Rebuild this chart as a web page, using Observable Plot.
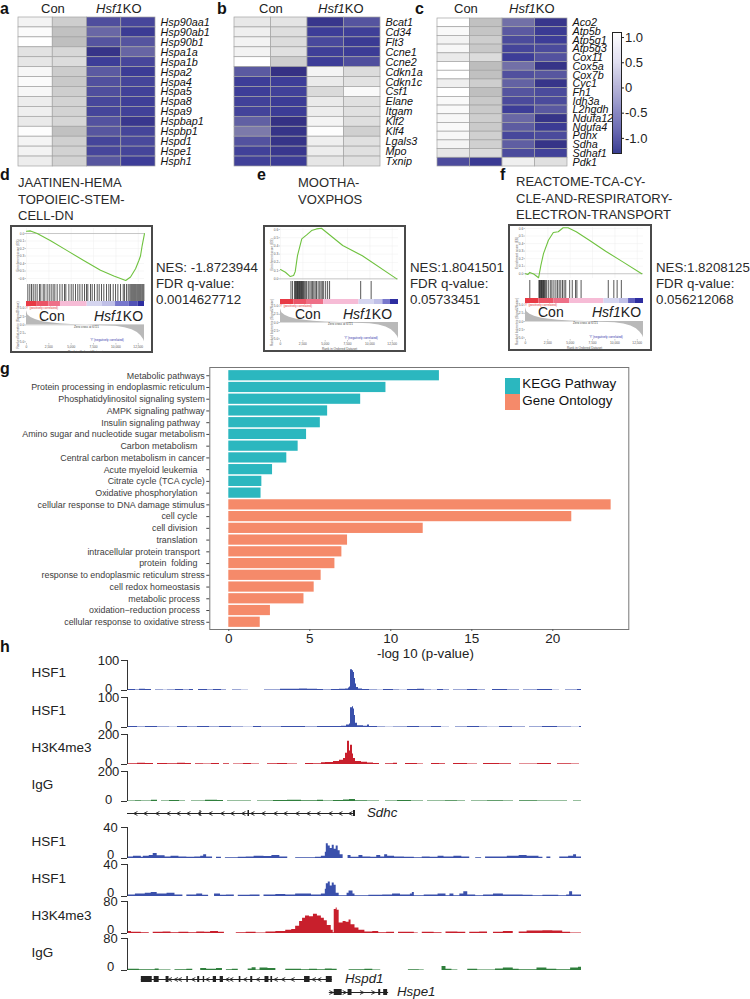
<!DOCTYPE html>
<html><head><meta charset="utf-8">
<style>
html,body{margin:0;padding:0;background:#fff}
#page{position:relative;width:750px;height:999px;overflow:hidden;font-family:"Liberation Sans",Arial,sans-serif;color:#222}
.t{position:absolute;line-height:1;white-space:pre;transform:translateY(-50%)}
.box{position:absolute;box-sizing:border-box;border:2px solid #4a4a4a}
.sw{position:absolute}
</style>
<script src="https://cdn.jsdelivr.net/npm/d3@7"></script>
<script src="https://cdn.jsdelivr.net/npm/@observablehq/plot@0.6"></script>
</head><body><div id="page"></div>
<script>
// ---------- heatmap data (z-scores) ----------
const genesA = ["Hsp90aa1","Hsp90ab1","Hsp90b1","Hspa1a","Hspa1b","Hspa2","Hspa4","Hspa5","Hspa8","Hspa9","Hspbap1","Hspbp1","Hspd1","Hspe1","Hsph1"];
const valuesA = [[1.05,.6,-.78,-.88],[1.15,.45,-.45,-1.05],[1.2,.42,-.7,-.7],[.85,.72,-1.2,-.48],[.9,.78,-1,-.88],[1.1,.58,-.62,-1.03],[1.15,.55,-.75,-.9],[1.1,.6,-.78,-.95],[.98,.67,-.87,-.98],[1,.67,-.9,-.95],[.95,.7,-.72,-1.12],[1.17,.45,-.68,-.9],[1.07,.63,-.9,-.85],[1.05,.65,-.88,-.9],[.98,.67,-.68,-1]];
const genesB = ["Bcat1","Cd34","Flt3","Ccne1","Ccne2","Cdkn1a","Cdkn1c","Csf1","Elane","Itgam","Klf2","Klf4","Lgals3","Mpo","Txnip"];
const valuesB = [[.92,.87,-1.15,-.7],[1,.8,-1,-.98],[1.05,.77,-.85,-1.05],[1.05,.83,-.98,-1.03],[1.2,.6,-1,-.78],[-.62,-1.25,1.07,.77],[-1,-1,.95,.85],[-1,-.95,.75,1.13],[-.95,-1.03,.95,.83],[-.92,-1.03,.98,.83],[-.55,-1.25,1.07,.8],[-.25,-1.2,1.17,.63],[-.72,-1.2,1,.83],[-.95,-1.12,.98,.83],[-.95,-1.03,.9,.83]];
const genesC = ["Aco2","Atp5b","Atp5g1","Atp5g3","Cox11","Cox5a","Cox7b","Cyc1","Fh1","Idh3a","L2hgdh","Ndufa12","Ndufa4","Pdhx","Sdha","Sdhaf1","Pdk1"];
const valuesC = [[1.2,.45,-.35,-1.15],[1.13,.5,-.63,-1.05],[1.05,.6,-.82,-1],[1.1,.55,-.9,-.82],[.95,.77,-1,-.72],[1.2,.4,-.35,-1.2],[1.2,.45,-.75,-.68],[1,.6,-.52,-1.18],[1.2,.42,-.7,-.82],[1.13,.55,-.83,-.82],[1.13,.56,-1,-.65],[1.1,.6,-.45,-1.2],[1.13,.56,-.6,-1.05],[1.1,.63,-.87,-.82],[1.07,.63,-.57,-1.2],[.9,.77,-.82,-.95],[-.8,-1.05,1,.83]];
const colorbarTicks = [1,.5,0,-.5,-1];

// ---------- GSEA data ----------
const rankTicks = [0,2500,5000,7500,10000,12500];
const esD = [[0,.03],[450,.035],[1200,0],[2700,-.096],[4550,-.228],[6400,-.36],[8280,-.49],[9770,-.566],[11100,-.627],[11640,-.58],[12200,-.47],[12570,-.36],[12750,-.3],[12940,-.16],[13200,0]];
const esE = [[0,.113],[550,.08],[1100,.028],[1465,.04],[1650,.09],[1900,.283],[2380,.486],[2930,.534],[3480,.587],[4030,.607],[4580,.615],[6960,.405],[9155,.28],[13000,0]];
const esF = [[0,0],[256,-.01],[476,.018],[915,-.004],[1465,-.053],[1720,.11],[2014,.267],[2563,.444],[3113,.547],[3660,.556],[4211,.609],[4760,.609],[5676,.556],[7140,.444],[8972,.298],[10800,.164],[13000,0]];
const hitsD = [150,370,560,750,970,1190,1450,1600,1870,2050,2310,2540,2760,2980,3170,3430,3730,3990,4250,4400,4740,5000,5220,5480,5740,5970,6230,6490,6710,6860,7160,7350,7610,7910,8130,8390,8650,8950,9210,9400,9700,9960,10220,10520,10820,10970,11190,11380,11560,11680,11790,11900,12010,12120,12230,12350,12460,12570,12680,12790,12910,13020,13130];
const hitsE = [1170,1350,1570,1680,1760,1830,1900,1980,2050,2120,2200,2270,2340,2420,2490,2560,2670,2820,2930,3110,3290,3440,3590,3730,3880,4030,4210,4390,4540,4680,4830,5050,5270,5490,8970,10140];
const hitsF = [480,1500,1570,1650,1720,1790,1870,1940,2010,2090,2160,2270,2380,2600,2820,2960,3180,3400,3590,3770,3950,4140,4320,4500,4940,5230,5600,5750,6220,9260,9880,10250,10720];
const rankedMetric = [[0,4.2],[150,3],[500,2.2],[1000,1.6],[1800,1],[2700,.7],[3700,.4],[5000,.15],[6700,0],[8500,-.2],[10000,-.4],[11000,-.8],[11800,-1.4],[12400,-2.2],[12800,-3.2],[13100,-4.3],[13200,-5]];
const bandD = [[0,1],[1200,.85],[2500,.7],[3800,.35],[6790,-.25],[8500,-.35],[9960,-.7],[11500,-.85],[12500,-1],[13200,-1]];
const bandE = [[0,1],[1500,.85],[3000,.7],[4830,.35],[8780,-.25],[10500,-.35],[11450,-.7],[12300,-1],[13200,-1]];
const bandF = [[0,1],[1500,.85],[3200,.7],[4940,.35],[8780,-.25],[10500,-.35],[11530,-.8],[12300,-1],[13200,-1]];

// ---------- bar chart data ----------
const pathways = ["Metabolic pathways","Protein processing in endoplasmic reticulum","Phosphatidylinositol signaling system","AMPK signaling pathway","Insulin signaling pathway\u00a0\u00a0","Amino sugar and nucleotide sugar metabolism","Carbon metabolism\u00a0\u00a0\u00a0","Central carbon metabolism in cancer","Acute myeloid leukemia\u00a0\u00a0\u00a0","Citrate cycle (TCA cycle)","Oxidative phosphorylation\u00a0\u00a0\u00a0"];
const pathwayValues = [13,9.7,8.14,6.1,5.65,4.8,4.28,3.58,2.7,2.04,1.99];
const terms = ["cellular response to DNA damage stimulus","cell cycle\u00a0\u00a0\u00a0","cell division\u00a0\u00a0\u00a0","translation\u00a0\u00a0\u00a0","intracellular protein transport\u00a0\u00a0","protein\u00a0 folding\u00a0\u00a0\u00a0","response to endoplasmic reticulum stress","cell redox homeostasis\u00a0\u00a0","metabolic process\u00a0\u00a0","oxidation\u2212reduction process\u00a0\u00a0","cellular response to oxidative stress"];
const termValues = [23.6,21.17,12,7.33,6.98,6.55,5.7,5.27,4.64,2.57,1.94];
const barTicks = [0,5,10,15,20];

// ---------- browser tracks: [position, signal] ----------
const sdhcHsf1a = [[0,3],[8,2],[12,4],[18,3],[24,0],[28,2],[36,1],[40,2],[48,3],[56,2],[62,3],[66,0],[71,3],[80,2],[86,3],[94,2],[99,0],[105,2],[114,1],[121,0],[137,2],[150,2],[153,4],[165,4],[172,5],[180,4],[190,3],[196,2],[204,3],[212,4],[218,5],[221,8],[222,12],[223,69],[225,66],[226,60],[227,40],[228,22],[229,10],[231,5],[235,3],[242,2],[250,1],[256,3],[266,2],[272,1],[280,3],[290,4],[297,2],[304,1],[310,3],[316,2],[322,0],[326,2],[340,3],[350,2],[358,0],[365,3],[380,2],[392,0],[396,2],[410,3],[425,1],[432,0],[438,2],[450,3],[463,1]];
const sdhcHsf1b = [[0,3],[10,2],[18,3],[30,2],[42,1],[50,3],[60,2],[70,3],[82,2],[92,3],[104,2],[116,1],[126,3],[134,2],[146,2],[154,3],[166,3],[178,2],[190,3],[202,3],[214,4],[219,8],[222,12],[223,66],[225,69],[226,62],[227,40],[228,14],[230,6],[236,4],[240,8],[242,3],[250,2],[258,1],[266,2],[280,3],[292,2],[304,3],[314,1],[322,0],[328,2],[340,3],[352,2],[360,1],[372,3],[385,2],[398,0],[402,2],[415,3],[430,2],[444,1],[452,3],[463,2]];
const sdhcH3k4 = [[0,5],[10,8],[18,6],[26,0],[30,6],[40,5],[50,9],[58,6],[64,0],[68,5],[76,4],[84,7],[92,0],[96,5],[102,0],[106,4],[116,6],[124,3],[132,0],[140,5],[150,6],[160,4],[170,0],[178,6],[186,5],[194,12],[198,14],[206,20],[212,28],[216,40],[218,75],[220,155],[222,90],[223,128],[225,70],[226,40],[228,20],[234,15],[240,10],[246,6],[252,0],[258,5],[266,8],[270,0],[278,6],[290,4],[296,0],[304,6],[312,5],[318,0],[326,6],[340,4],[350,0],[356,6],[372,5],[384,0],[392,4],[410,6],[424,0],[430,5],[444,4],[452,0],[456,4],[463,3]];
const sdhcIgg = [[0,4],[8,5],[14,4],[24,8],[30,0],[34,4],[42,6],[52,3],[58,0],[64,4],[78,8],[90,6],[96,0],[100,4],[114,3],[124,0],[130,4],[146,6],[160,8],[174,5],[190,9],[196,3],[206,6],[216,10],[222,14],[228,5],[240,4],[252,0],[258,4],[270,6],[284,3],[296,0],[300,4],[318,5],[330,3],[338,0],[344,4],[360,5],[376,3],[386,0],[392,5],[410,4],[426,3],[440,0],[446,4],[463,3]];
const hspHsf1a = [[0,2],[6,3],[14,1.5],[16,3],[22,4],[26,6.5],[30,3.5],[38,2],[44,3],[52,2],[60,1.5],[68,2],[74,3],[77,5],[80,2],[86,0],[90,1.5],[95,0],[99,1],[112,1.5],[120,2],[128,3],[138,2.5],[146,4],[154,2],[162,0],[170,1],[190,1.5],[196,3],[200,8],[201,19],[203,16],[205,13],[207,17],[209,12],[211,16],[213,10],[215,5],[218,0],[223,4],[226,1.5],[234,4],[238,2],[246,1.5],[252,4],[256,2],[260,5],[263,3],[270,2],[280,1.5],[290,1],[298,2],[306,1.5],[314,3],[320,2],[330,3],[338,2],[346,0],[352,1],[358,0],[362,2],[372,2],[384,3],[396,4],[404,3],[416,1.5],[420,0],[424,2],[428,0],[437,2],[446,3],[451,5],[454,2],[459,1]];
const hspHsf1b = [[0,2],[8,3],[18,4],[24,5],[30,3],[40,4],[48,2],[56,0],[60,2],[70,3],[76,1.5],[82,0],[88,3],[94,1.5],[100,2],[108,0],[112,1.5],[124,2],[134,0],[138,2],[150,2.5],[160,2],[170,3],[186,2],[196,3],[200,9],[201,16],[203,18],[205,13],[207,17],[209,14],[211,4],[214,1],[222,4],[224,7],[228,3],[230,1],[244,1.5],[258,2],[268,3],[276,2],[286,3],[288,5],[290,1],[300,2],[314,3],[322,1],[326,3],[330,1],[336,3],[340,6],[344,2],[352,1],[360,2],[370,3],[380,2],[392,2],[400,1.5],[410,1],[420,1.5],[436,1],[444,2],[447,6],[450,2],[459,1.5]];
const hspH3k4a = [[0,5],[4,3],[14,2],[22,0],[26,3],[36,4],[44,2],[52,3],[62,2],[70,4],[78,3],[84,5],[92,3],[98,0],[105,0],[110,2],[120,3],[130,1],[140,4],[150,5],[160,8],[166,10],[170,18],[174,30],[177,38],[180,44],[184,42],[188,48],[192,44],[196,38],[199,32],[202,20],[206,8],[208,2],[209,60],[211,64],[212,58],[214,26],[218,30],[221,28],[224,34],[226,22],[230,14],[234,8],[240,4],[248,5],[254,2],[262,3],[270,0],[274,3],[290,1],[294,0],[298,3],[310,2],[318,0],[322,4],[334,3],[342,0],[346,3],[356,4],[364,0],[370,3],[380,5],[390,0],[396,4],[404,6],[420,7],[430,6],[440,3],[448,1],[459,2]];
const hspIgg = [[0,3],[12,2],[24,2],[28,4],[32,1],[44,0],[48,2],[60,3],[66,0],[74,5],[80,3],[90,5],[96,0],[100,2],[106,3],[112,0],[122,4],[126,7],[130,1],[134,6],[142,5],[150,0],[160,3],[176,2],[184,3],[192,2],[200,4],[207,3],[212,0],[224,2],[240,3],[248,1],[256,0],[281,0],[284,2],[295,1],[300,0],[318,10],[322,3],[328,1],[334,0],[344,3],[354,1],[372,4],[380,6],[390,3],[396,2],[414,6],[424,3],[434,2],[448,6],[456,8],[459,2]];

// ---------- gene models ----------
const sdhcChevrons = [8,18,30,41,51,61,72,83,95,105,116,125,136,148,158,170,181,191,203,213,223];
const sdhcExons = [[72.5,73.5],[120.5,122],[226,228]];
const hspd1Chevrons = [43,49,53,66.6,81,101,105,119,132,150,157.5,167,188.5,194];
const hspd1Exons = [[14,25],[27,32],[39,42],[60,61.5],[71,73],[76.6,78],[86.7,90],[93.7,97],[113,114.6],[124.6,126.6],[139,143],[145,146.7],[179,184.6],[201,207]];
const hspe1Chevrons = [206,219.5,237,248.5];
const hspe1Exons = [[209,217],[223,227],[254,256],[259,263]];

// ---------- helpers ----------
const page = document.getElementById("page");
const FF = '"Liberation Sans",Arial,sans-serif';
function plotAt(left, top, opts) {
  const p = Plot.plot({...opts, style: {background: "transparent", overflow: "visible", fontFamily: FF}});
  p.style.position = "absolute"; p.style.left = left + "px"; p.style.top = top + "px"; p.style.maxWidth = "none";
  page.appendChild(p); return p;
}
function label(html, x, y, size, extra = "") {
  const d = document.createElement("div"); d.className = "t"; d.innerHTML = html;
  d.style.cssText = `left:${x}px;top:${y}px;font-size:${size}px;${extra}`;
  page.appendChild(d);
}
const flat = (genes, vals) => genes.flatMap((g, i) => vals[i].map((v, j) => ({gene: g, col: j, v})));
const heatColor = {type: "linear", domain: [-1.3,-1,-.4,.4,1.2], range: ["#332f80","#3d3d98","#6d6ba6","#bdbdbd","#ffffff"], clamp: true};

function heatmap(left, top, w, h, genes, vals) {
  plotAt(left, top, {
    width: w + 70, height: h, marginLeft: 0, marginRight: 70, marginTop: 0, marginBottom: 0,
    x: {domain: [0,1,2,3], padding: 0, axis: null, round: false},
    y: {domain: genes, padding: 0, round: false, axis: null},
    color: heatColor,
    marks: [
      Plot.cell(flat(genes, vals), {x: "col", y: "gene", fill: "v", stroke: "#a3a3a3", strokeWidth: .7}),
      Plot.axisY({anchor: "right", tickSize: 0, tickPadding: 5, fontSize: 10.8, fontStyle: "italic", fill: "#111", label: null})
    ]
  });
}
heatmap(18, 17, 137, 149, genesA, valuesA);
heatmap(234, 17, 146, 149, genesB, valuesB);
heatmap(437, 18, 130, 148, genesC, valuesC);

// colour bar
const barSteps = d3.range(-1.3, 1.1, .02);
plotAt(612, 32, {
  width: 30, height: 121, marginLeft: 0, marginRight: 21, marginTop: 0, marginBottom: 0,
  x: {domain: [0,1], axis: null},
  y: {domain: [-1.3,1.1], axis: null},
  color: {type: "linear", domain: [-1.3,-1,-.5,0,.5,1.1], range: ["#3a3f92","#4a4aa0","#6d6cb3","#a5a3cf","#dedcef","#ffffff"]},
  marks: [
    Plot.rect(barSteps, {x1: 0, x2: 1, y1: d => d, y2: d => d + .022, fill: d => d}),
    Plot.frame({stroke: "#222", strokeWidth: 1}),
    Plot.axisY({anchor: "right", ticks: colorbarTicks, tickSize: 2, tickPadding: 1.5, fontSize: 13, textAnchor: "start", tickFormat: d => d === 0 ? "0" : d3.format(".1f")(d).replace("\u2212","-"), fill: "#222", label: null})
  ]
});

// heatmap headers and panel letters
[53,271,466].forEach(x => label("Con", x - 12, 8, 13));
[96,318,509].forEach(x => label("<i>Hsf1</i>KO", x, 8, 13));
[["a",0,9],["b",217,9],["c",415,9],["d",0,175],["e",257,175],["f",500,175],["g",0,369],["h",0,647]].forEach(([s,x,y]) => label(s, x, y, 16, "font-weight:bold;color:#111"));

// GSEA panels
const bandColor = {type: "linear", domain: [-1,-.7,-.25,.35,.7,1], range: ["#2d2da0","#7777cc","#d5d5ef","#f6bcd6","#ee7088","#e83a45"]};
const tiny = {fontSize: 3.2, fill: "#555", tickSize: 1.5, tickPadding: .8, stroke: "#777", strokeWidth: .4};
function gsea(c) {
  const w = c.x2 - c.x1, ml = 16;
  const box = document.createElement("div"); box.className = "box";
  box.style.cssText = `left:${c.fx1}px;top:${c.fy1}px;width:${c.fx2 - c.fx1}px;height:${c.fy2 - c.fy1}px`;
  page.appendChild(box);
  const xs = {domain: [0,13200], axis: null};
  plotAt(c.x1 - ml, c.es[0], {
    width: w + ml, height: c.es[1] - c.es[0], marginLeft: ml, marginRight: 0, marginTop: 0, marginBottom: 0,
    x: xs, y: {domain: c.esDomain, axis: null},
    marks: [
      Plot.ruleY(c.esTicks, {stroke: "#eee", strokeWidth: .5}),
      Plot.ruleX(rankTicks, {stroke: "#eee", strokeWidth: .5}),
      Plot.ruleY([0], {stroke: "#999", strokeWidth: .5}),
      Plot.line(c.curve, {x: d => d[0], y: d => d[1], stroke: "#6fc23f", strokeWidth: 1.1}),
      Plot.axisY({...tiny, ticks: c.esTicks, tickFormat: ".1f", label: "Enrichment score (ES)", labelAnchor: "center", labelArrow: "none", labelOffset: 10})
    ]
  });
  plotAt(c.x1, c.hits[0], {
    width: w, height: c.hits[1] - c.hits[0], margin: 0, x: xs,
    marks: [Plot.ruleX(c.hitList, {stroke: "#111", strokeWidth: 1, strokeOpacity: .7})]
  });
  const segs = c.band.slice(0, -1).map((b, i) => ({a: b[0], b: c.band[i + 1][0], v: b[1]}));
  plotAt(c.x1, c.hits[1], {
    width: w, height: 5, margin: 0, x: xs, color: bandColor,
    marks: [Plot.rect(segs, {x1: "a", x2: "b", fill: "v"})]
  });
  plotAt(c.x1 - ml, c.rank[0], {
    width: w + ml, height: c.rank[1] - c.rank[0] + 12, marginLeft: ml, marginRight: 0, marginTop: 0, marginBottom: 12,
    x: {domain: [0,13200]}, y: {domain: [-5.5,5.5]},
    marks: [
      Plot.ruleY([0], {stroke: "#bbb", strokeWidth: .5}),
      Plot.areaY(rankedMetric, {x: d => d[0], y: d => d[1], fill: "#b9b9b9"}),
      Plot.text(["Zero cross at 6721"], {x: 6700, y: -.6, fontSize: 3, fill: "#444"}),
      Plot.text(["'Y' (positively correlated)"], {x: 1700, y: 4.9, fontSize: 3, fill: "#d33"}),
      Plot.text(["'Y' (negatively correlated)"], {x: 9000, y: -4.6, fontSize: 3, fill: "#33a"}),
      Plot.axisY({...tiny, ticks: [-5,-2.5,0,2.5,5], tickFormat: ".1f", label: "Ranked list metric (Signal2Noise)", labelAnchor: "center", labelArrow: "none", labelOffset: 10}),
      Plot.axisX({...tiny, ticks: rankTicks, tickFormat: d3.format(","), label: "Rank in Ordered Dataset", labelAnchor: "center", labelArrow: "none", labelOffset: 9})
    ]
  });
  label("Con", c.con, c.cy, 14);
  label("<i>Hsf1</i>KO", c.ko, c.cy, 14);
}
gsea({fx1:10,fx2:153,fy1:225,fy2:353,x1:26,x2:144,es:[228,282],esDomain:[-.653,.067],esTicks:[0,-.1,-.2,-.3,-.4,-.5,-.6],curve:esD,hits:[284,301],hitList:hitsD,band:bandD,rank:[306,343],con:39,ko:94,cy:316});
gsea({fx1:263,fx2:406,fy1:225,fy2:352,x1:280,x2:398,es:[228,280],esDomain:[-.02,.612],esTicks:[0,.1,.2,.3,.4,.5,.6],curve:esE,hits:[281,299],hitList:hitsE,band:bandE,rank:[304,340],con:295,ko:343,cy:314});
gsea({fx1:508,fx2:652,fy1:224,fy2:351,x1:525,x2:643,es:[227,278],esDomain:[-.063,.613],esTicks:[0,.1,.2,.3,.4,.5,.6],curve:esF,hits:[280,298],hitList:hitsF,band:bandF,rank:[303,339],con:538,ko:592,cy:312});

const tc = "color:#2a2a2a";
["JAATINEN-HEMA","TOPOIEIC-STEM-","CELL-DN"].forEach((s,i) => label(s, 18, 182 + i * 16.5, 13, tc));
["MOOTHA-","VOXPHOS"].forEach((s,i) => label(s, 298, 182 + i * 16.5, 13, tc));
["REACTOME-TCA-CY-","CLE-AND-RESPIRATORY-","ELECTRON-TRANSPORT"].forEach((s,i) => label(s, 516, 181 + i * 16.5, 13, tc));
["NES: -1.8723944","FDR q-value:","0.0014627712"].forEach((s,i) => label(s, 156, 268 + i * 16, 13.3, tc));
["NES:1.8041501","FDR q-value:","0.05733451"].forEach((s,i) => label(s, 410, 268 + i * 16, 13.3, tc));
["NES:1.8208125","FDR q-value:","0.056212068"].forEach((s,i) => label(s, 656, 268 + i * 16, 13.3, tc));

// Panel g bars
const barRows = [
  ...pathways.map((name, i) => ({name, value: pathwayValues[i], group: "KEGG Pathway"})),
  ...terms.map((name, i) => ({name, value: termValues[i], group: "Gene Ontology"}))
];
plotAt(0, 367.3, {
  width: 629, height: 283, marginLeft: 209.3, marginRight: .7, marginTop: 0, marginBottom: 21,
  x: {domain: [-1.173,24.69], axis: null},
  y: {domain: barRows.map(d => d.name), range: [1.6,261.4], padding: .13, round: false, axis: null},
  color: {domain: ["KEGG Pathway","Gene Ontology"], range: ["#2bb7bf","#f58a6a"]},
  marks: [
    Plot.barX(barRows, {x1: 0, x2: "value", y: "name", fill: "group"}),
    Plot.frame({stroke: "#777", strokeWidth: 1}),
    Plot.axisY({tickSize: 3, tickPadding: 2, fontSize: 8.9, fill: "#3c3c3c", stroke: "#444", label: null}),
    Plot.axisX({ticks: barTicks, tickSize: 2, tickPadding: 2, fontSize: 13.5, fill: "#222", stroke: "#555", label: null})
  ]
});
label("-log 10 (p-value)", 377, 654, 13.3);
[[505,378,"#2bb7bf","KEGG Pathway",384],[505,394,"#f58a6a","Gene Ontology",401]].forEach(([x,y,c,s,ty]) => {
  const d = document.createElement("div"); d.className = "sw";
  d.style.cssText = `left:${x}px;top:${y}px;width:15px;height:15.5px;background:${c}`;
  page.appendChild(d);
  label(s, 522.3, ty, 13.4, "color:#111");
});

// Panel h tracks
function track(top, base, max, series, color, labelCx, domainEnd, zeroLift) {
  const pad = 8;
  const axisOpts = {tickSize: 6, tickPadding: 127 - 6 - labelCx, textAnchor: "middle", fontSize: 13, fill: "#222", stroke: "#333", label: null};
  plotAt(0, top - pad, {
    width: 581, height: base - top + 2 * pad, marginLeft: 127, marginRight: 0, marginTop: pad, marginBottom: pad,
    x: {domain: [0,domainEnd], axis: null},
    y: {domain: [0,max], axis: null},
    marks: [
      Plot.areaY(series, {x: d => d[0], y: d => d[1], curve: "step-after", fill: color, clip: true}),
      Plot.ruleX([0], {stroke: "#333", strokeWidth: 1}),
      Plot.axisY({...axisOpts, ticks: [max]}),
      Plot.tickY([0], {stroke: "#333", dx: 0, x1: undefined}) && Plot.axisY({...axisOpts, ticks: [0], dy: -zeroLift, tickSize: 0, tickPadding: 127 - labelCx}),
      Plot.ruleY([0], {x1: -domainEnd * 6 / (581 - 127), x2: 0, stroke: "#333", clip: false})
    ]
  });
}
const BLUE = "#3a50ab", RED = "#c81f2c", GREEN = "#2f7f3c";
track(660, 690, 100, sdhcHsf1a, BLUE, 108, 454, 2);
track(697, 727, 100, sdhcHsf1b, BLUE, 108, 454, 2);
track(734, 764, 200, sdhcH3k4, RED, 108, 454, 2);
track(771, 801, 200, sdhcIgg, GREEN, 108, 454, 2);
track(827, 858, 40, hspHsf1a, BLUE, 110, 459, 4);
track(864, 896, 40, hspHsf1b, BLUE, 110, 459, 4);
track(901, 933, 80, hspH3k4a, RED, 110, 459, 4);
track(938, 970, 80, hspIgg, GREEN, 110, 459, 4);
[["HSF1",673],["HSF1",711],["H3K4me3",748],["IgG",785],["HSF1",842],["HSF1",879],["H3K4me3",916],["IgG",953]].forEach(([s,y]) => label(s, 31.5, y, 13.5));

const chevL = {draw(ctx, size) { const s = Math.sqrt(size) / 2; ctx.moveTo(s, -s); ctx.lineTo(-s, 0); ctx.lineTo(s, s); }};
const chevR = {draw(ctx, size) { const s = Math.sqrt(size) / 2; ctx.moveTo(-s, -s); ctx.lineTo(s, 0); ctx.lineTo(-s, s); }};
function gene(y, x1, x2, chevrons, exons, sym, name, nameX, domainEnd) {
  plotAt(0, y - 5, {
    width: 581, height: 10, marginLeft: 127, marginRight: 0, marginTop: 0, marginBottom: 0,
    x: {domain: [0,domainEnd], axis: null},
    y: {domain: [-1,1], axis: null},
    marks: [
      Plot.ruleY([0], {x1, x2, stroke: "#222", strokeWidth: 1}),
      Plot.rect(exons, {x1: d => d[0], x2: d => d[1], y1: -.6, y2: .6, fill: "#222"}),
      Plot.dot(chevrons, {x: d => d, y: 0, symbol: sym, r: 2.2, fill: "none", stroke: "#222", strokeWidth: .9})
    ]
  });
  label(`<i>${name}</i>`, nameX, y, 13.3);
}
gene(813, 0, 228, sdhcChevrons, sdhcExons, chevL, "Sdhc", 367, 454);
gene(979, 14, 207, hspd1Chevrons, hspd1Exons, chevL, "Hspd1", 345, 459);
gene(992, 204, 264, hspe1Chevrons, hspe1Exons, chevR, "Hspe1", 397, 459);
</script></body></html>
